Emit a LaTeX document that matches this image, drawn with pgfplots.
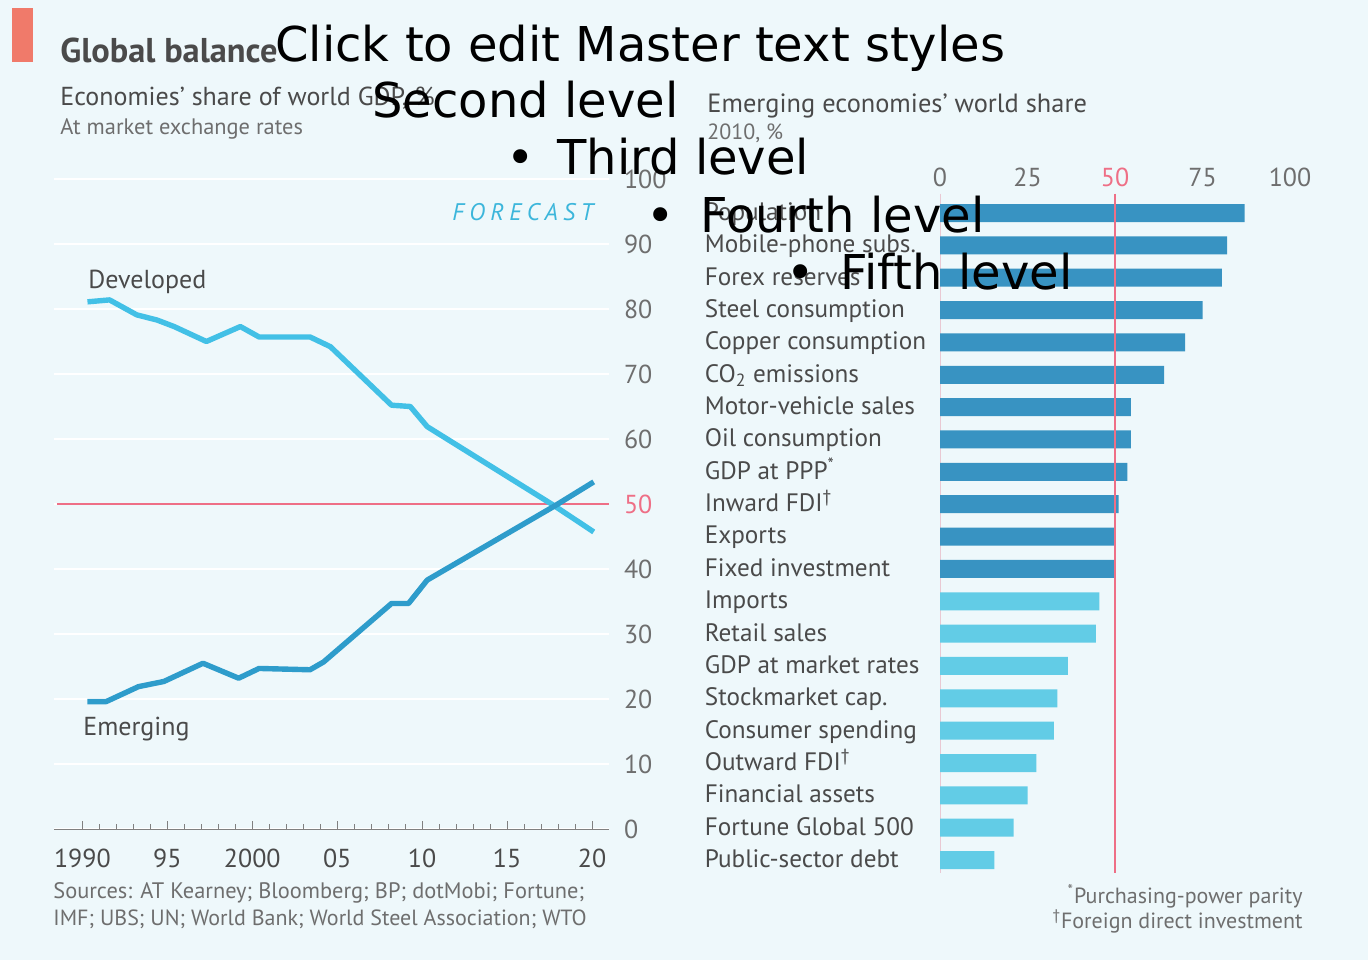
\documentclass[border=0pt]{standalone}
\usepackage{fontspec}
\setmainfont{PT Sans}
\newfontfamily\ppt{DejaVu Sans}
\usepackage{pgfplots}
\pgfplotsset{compat=1.18}

\definecolor{bg}{HTML}{EEF8FB}
\definecolor{devc}{HTML}{42C0E6}
\definecolor{emc}{HTML}{2E9CCB}
\definecolor{darkbar}{HTML}{3893C2}
\definecolor{lightbar}{HTML}{62CCE6}
\definecolor{myred}{HTML}{EE6F86}
\definecolor{txt}{HTML}{4A4A4A}
\definecolor{soft}{HTML}{6E6E6E}
\definecolor{fc}{HTML}{3CB6DB}
\definecolor{tag}{HTML}{F07A6A}
\definecolor{zeroline}{HTML}{E9C9D3}

\newcommand{\fs}[1]{\fontsize{#1}{#1}\selectfont}

\begin{document}
\begin{tikzpicture}
\fill[bg] (0,0) rectangle (684pt,480pt);
\fill[tag] (6pt,449pt) rectangle (16.5pt,476pt);

% left: share of world GDP
\begin{axis}[
  at={(27pt,65.5pt)}, anchor=south west, scale only axis,
  width=277.5pt, height=325pt,
  xmin=1988.33, xmax=2021, ymin=0, ymax=100,
  clip=false,
  axis x line*=bottom, axis y line*=right,
  x axis line style={-, draw=gray, thin},
  y axis line style={draw=none},
  xtick={1990,1995,...,2020},
  xticklabels={1990,95,2000,05,10,15,20},
  minor xtick={1990,...,2020},
  tick align=inside,
  major tick length=4pt, minor tick length=2.5pt,
  xtick style={gray, thin},
  xticklabel style={font=\fs{13}, text=txt, yshift=-6.5pt},
  ytick={0,10,...,100},
  yticklabels={0,10,20,30,40,\textcolor{myred}{50},60,70,80,90,100},
  ytick style={draw=none},
  yticklabel style={font=\fs{13}, text=soft, xshift=4pt},
  ymajorgrids, grid style={white, line width=1.2pt},
]
\draw[myred, line width=0.7pt] (axis cs:1988.5,50) -- (axis cs:2021,50);
\addplot[devc, line width=2.7pt, line join=round] coordinates {
  (1990.3,81.1) (1991.6,81.4) (1993.2,79.1) (1994.4,78.3) (1995.4,77.3)
  (1997.3,75.0) (1999.3,77.3) (2000.4,75.7) (2003.4,75.7) (2004.6,74.2)
  (2008.2,65.2) (2009.3,65.0) (2010.3,61.9) (2017.8,49.7) (2020.1,45.7)};
\addplot[emc, line width=2.7pt, line join=round] coordinates {
  (1990.3,19.6) (1991.4,19.6) (1993.3,21.9) (1994.8,22.7) (1997.1,25.5)
  (1999.2,23.2) (2000.4,24.7) (2003.4,24.5) (2004.2,25.7) (2008.2,34.7)
  (2009.2,34.7) (2010.3,38.3) (2017.8,49.7) (2020.1,53.4)};
\end{axis}

% right: emerging economies' world share
\begin{axis}[
  at={(470pt,43.5pt)}, anchor=south west, scale only axis,
  width=175pt, height=339.7pt,
  xmin=0, xmax=100, ymin=-0.6, ymax=20.4, y dir=reverse,
  clip=false,
  xbar, bar width=9pt, bar shift=0pt,
  axis line style={draw=none}, tick style={draw=none},
  xtick={0,25,50,75,100}, xticklabel pos=upper,
  xticklabels={0,25,\textcolor{myred}{50},75,100},
  xticklabel style={font=\fs{13}, text=soft},
  ytick={0,...,20},
  yticklabels={Population,Mobile-phone subs.,Forex reserves,Steel consumption,
    Copper consumption,CO\textsubscript{2} emissions,Motor-vehicle sales,
    Oil consumption,GDP at PPP\textsuperscript{*},Inward FDI\textsuperscript{†},
    Exports,Fixed investment,Imports,Retail sales,GDP at market rates,
    Stockmarket cap.,Consumer spending,Outward FDI\textsuperscript{†},
    Financial assets,Fortune Global 500,Public-sector debt},
  yticklabel style={font=\fs{12.6}, text=txt, anchor=west, inner sep=0pt,
    text height=0.75em, text depth=0.25em, xshift=-113.5pt, yshift=-1.2pt},
]
\draw[zeroline, line width=0.5pt] (axis cs:0,-0.6) -- (axis cs:0,20.4);
\addplot[fill=darkbar, draw=none] coordinates {
  (87,0) (82,1) (80.5,2) (75,3) (70,4) (64,5) (54.5,6) (54.5,7)
  (53.5,8) (51,9) (50,10) (50,11)};
\addplot[fill=lightbar, draw=none] coordinates {
  (45.5,12) (44.5,13) (36.5,14) (33.5,15) (32.5,16) (27.5,17)
  (25,18) (21,19) (15.5,20)};
\draw[myred, line width=0.7pt] (axis cs:50,-0.6) -- (axis cs:50,20.4);
\end{axis}

\begin{scope}[x=0.5pt, y=-0.5pt, shift={(0pt,480pt)},
  every node/.style={inner sep=0pt, anchor=base west}]
\node[font=\bfseries\fs{17.2}, text=txt] at (60,63) {Global balance};
\node[font=\fs{13}, text=txt] at (60,106) {Economies’ share of world GDP, \%};
\node[font=\fs{11.2}, text=soft] at (60,135) {At market exchange rates};
\node[font=\fs{13.2}, text=txt] at (707,113) {Emerging economies’ world share};
\node[font=\fs{11}, text=soft] at (707,140) {2010, \%};
\node[font=\itshape\fs{12}\addfontfeature{LetterSpace=22}, text=fc] at (452,221) {FORECAST};
\node[font=\fs{13}, text=txt] at (88,289) {Developed};
\node[font=\fs{13}, text=txt] at (83,735) {Emerging};
\node[font=\fs{11.2}, text=soft] at (53,898) {Sources: AT Kearney; Bloomberg; BP; dotMobi; Fortune;};
\node[font=\fs{11}, text=soft] at (53,925) {IMF; UBS; UN; World Bank; World Steel Association; WTO};
\node[font=\fs{11}, text=soft, anchor=base east] at (1303,903) {\textsuperscript{*}Purchasing-power parity};
\node[font=\fs{11}, text=soft, anchor=base east] at (1303,928) {\textsuperscript{†}Foreign direct investment};
% slide placeholder text over the picture
\node[font=\ppt\fs{24}] at (275,62) {Click to edit Master text styles};
\node[font=\ppt\fs{24}] at (372,118) {Second level};
\node[font=\ppt\fs{24}] at (506,175) {•};
\node[font=\ppt\fs{24}] at (557,175) {Third level};
\node[font=\ppt\fs{24}] at (646,233) {•};
\node[font=\ppt\fs{24}] at (700,233) {Fourth level};
\node[font=\ppt\fs{24}] at (786,290) {•};
\node[font=\ppt\fs{24}] at (840,290) {Fifth level};
\end{scope}
\end{tikzpicture}
\end{document}
